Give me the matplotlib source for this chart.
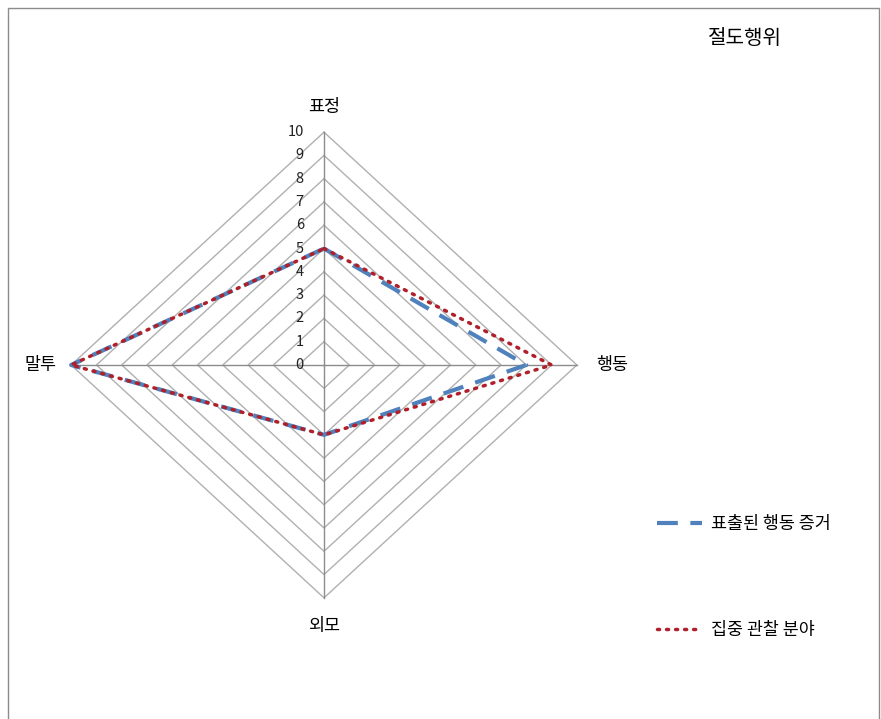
import numpy as np
import matplotlib.pyplot as plt
from matplotlib.lines import Line2D
from matplotlib.patches import Rectangle

plt.rcParams['font.family'] = ['Noto Sans CJK KR', 'DejaVu Sans']

title = "절도행위"
categories = ["표정", "행동", "외모", "말투"]
series_names = ["표출된 행동 증거", "집중 관찰 분야"]
evidence = [5, 8, 3, 10]
focus = [5, 9, 3, 10]
ticks = list(range(0, 11))

# direction of each category spoke (top, right, bottom, left)
dirs = np.array([[0, 1], [1, 0], [0, -1], [-1, 0]])


def to_xy(vals):
  pts = dirs * np.array(vals)[:, None]
  return np.vstack([pts, pts[:1]])


fig = plt.figure(figsize=(8.81, 7.19), dpi=100)
ax = fig.add_axes([58.5 / 881, 1 - 609.5 / 719, 531 / 881, 489 / 719])
ax.set_xlim(-10.5, 10.5)
ax.set_ylim(-10.5, 10.5)
ax.axis("off")

# grid diamonds
for t in ticks[1:]:
  g = to_xy([t] * 4)
  ax.plot(g[:, 0], g[:, 1], color="#b0b0b0", lw=1, zorder=1)
# spokes
for d in dirs:
  ax.plot([0, d[0] * 10], [0, d[1] * 10], color="#8c8c8c", lw=1, zorder=1)

# tick labels along top spoke
for t in ticks:
  ax.text(-0.8, t, str(t), ha="right", va="center", fontsize=10.5, color="#222222")

# category labels
ax.text(0, 11.1, categories[0], ha="center", va="center", fontsize=12.5)
ax.text(11.4, 0, categories[1], ha="center", va="center", fontsize=12.5)
ax.text(0, -11.2, categories[2], ha="center", va="center", fontsize=12.5)
ax.text(-11.2, 0, categories[3], ha="center", va="center", fontsize=12.5)

blue = "#4f81bd"
red = "#b0202a"
dots = (0, (0.6, 2.0))
e = to_xy(evidence)
f = to_xy(focus)
ax.plot(e[:, 0], e[:, 1], color=blue, lw=3, linestyle=(0, (5, 3)), zorder=3)
ax.plot(f[:, 0], f[:, 1], color=red, lw=2.5, linestyle=dots,
        dash_capstyle="round", zorder=4)
for a in ax.lines:
  a.set_clip_on(False)

# title
fig.text(745 / 881, 1 - 38 / 719, title, ha="center", va="center", fontsize=14.5)

# legend
handles = [
    Line2D([], [], color=blue, lw=3, linestyle=(0, (5, 3))),
    Line2D([], [], color=red, lw=2.5, linestyle=dots, dash_capstyle="round"),
]
fig.legend(handles, series_names, loc="upper left",
           bbox_to_anchor=(641 / 881, 1 - 499 / 719), frameon=False,
           fontsize=12.5, labelspacing=5.1, handlelength=2.6, handletextpad=0.55)

# outer chart border
fig.patches.append(Rectangle((8 / 881, -0.02), 871 / 881, 1.02 - 8 / 719,
                             transform=fig.transFigure, fill=False,
                             edgecolor="#8c8c8c", lw=1))

fig.savefig("out.png", dpi=100)
